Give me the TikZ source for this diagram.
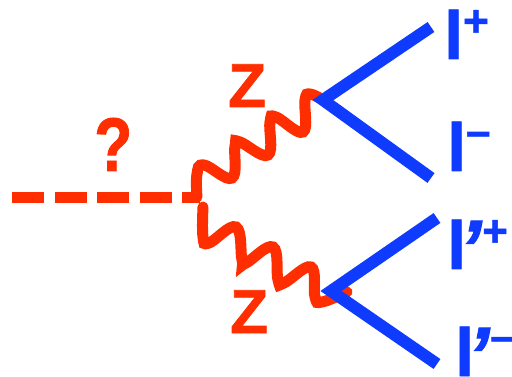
\documentclass[tikz,border=0pt]{standalone}
\usepackage{fontspec}
\setmainfont[FakeBold=1.2]{Liberation Sans}
\usetikzlibrary{positioning, calc}
\definecolor{BosonRed}{HTML}{FF2E00}
\definecolor{LeptonBlue}{HTML}{0F3BFF}
\newcommand{\lepbig}{\fontsize{68}{68}\selectfont\bfseries}
\newcommand{\lepsup}[2][23pt]{\raisebox{#1}{\fontsize{44}{44}\selectfont\bfseries #2}}
\newcommand{\lepprime}{\kern-7pt\raisebox{-7pt}{\fontsize{80}{80}\selectfont\bfseries\itshape ’}\kern1pt}
\tikzset{
    lepton/.style={line width=12pt, color=LeptonBlue},
    boson/.style={line width=11pt, color=BosonRed, line cap=round},
    scalar/.style={line width=11pt, color=BosonRed, dash pattern=on 32pt off 10.5pt},
    redlabel/.style={color=BosonRed, inner sep=0pt, anchor=base west, font=\fontsize{62}{62}\selectfont\bfseries},
    leplabel/.style={color=LeptonBlue, inner sep=0pt, anchor=base west, font=\lepbig}
}
\begin{document}
\begin{tikzpicture}[x=1pt, y=-1pt]
    \useasboundingbox (0,0) rectangle (512,377);
    \coordinate (start) at (12,198);
    \coordinate (Hvert) at (200,198);
    \coordinate (Zup) at (323,100);
    \coordinate (Zdown) at (331,291);
    \coordinate (lp) at (431,27);
    \coordinate (lm) at (431,178);
    \coordinate (lpp) at (437,218);
    \coordinate (lpm) at (437,364);

    \draw[scalar] (start) -- (Hvert);

    \draw[boson] plot[smooth, tension=0.7] coordinates {(197,197) (197,174) (204,165) (232,178) (235,146) (240,142) (268,155) (270,122) (276,117) (303,132) (305,100) (310,94) (Zup)};
    \draw[boson] plot[smooth, tension=0.7] coordinates {(203,207) (203,237) (209,243) (236,227) (242,260) (246,263) (273,247) (278,280) (284,283) (311,267) (315,297) (322,302) (347,292)};

    \draw[lepton] (lp) -- (Zup) -- (lm);
    \draw[lepton] (lpp) -- (Zdown) -- (lpm);

    \node[redlabel] (Q) at (94,171) {\fontsize{76}{76}\selectfont\scalebox{0.82}[1]{?}};
    \node[redlabel] (Zu) at (228,107) {Z};
    \node[redlabel] (Zd) at (230,333) {Z};

    \node[leplabel] (Lp) at (444,59) {l\lepsup{+}};
    \node[leplabel] (Lm) at (447,171) {l\lepsup[25pt]{–}};
    \node[leplabel] (Lpp) at (447,269) {l\lepprime\lepsup{+}};
    \node[leplabel] (Lpm) at (455,376) {l\lepprime\lepsup[25pt]{–}};
\end{tikzpicture}
\end{document}
